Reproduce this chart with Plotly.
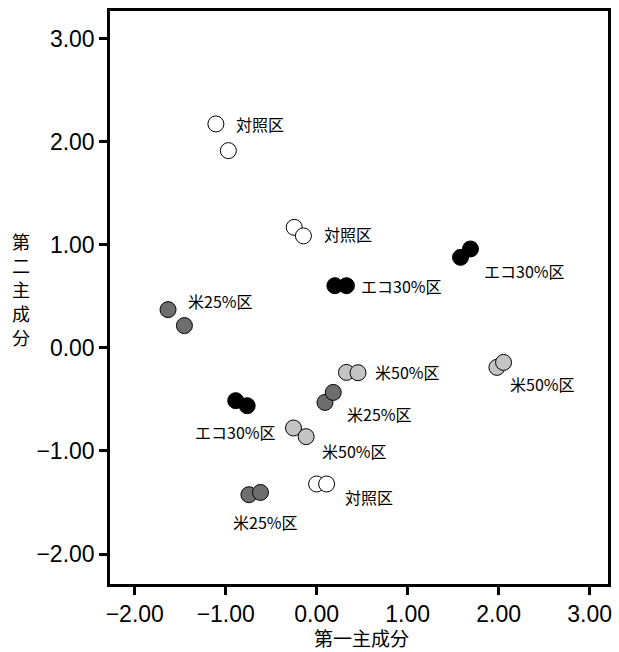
import plotly.graph_objects as go

# ---- data ----
groups = ["対照区", "エコ30%区", "米25%区", "米50%区"]

ctrl_x = [-1.108, -0.971, -0.247, -0.146, -0.001, 0.109]
ctrl_y = [2.172, 1.913, 1.169, 1.086, -1.320, -1.320]

eco_x = [0.200, 0.327, 1.581, 1.690, -0.890, -0.764]
eco_y = [0.603, 0.603, 0.878, 0.959, -0.512, -0.561]

r25_x = [-1.634, -1.454, 0.091, 0.182, -0.745, -0.618]
r25_y = [0.371, 0.216, -0.529, -0.432, -1.424, -1.402]

r50_x = [0.327, 0.454, -0.255, -0.116, 1.981, 2.054]
r50_y = [-0.238, -0.241, -0.777, -0.861, -0.189, -0.141]

# label text and anchor (left edge, vertical middle) in data units
label_text = ["対照区", "対照区", "対照区",
              "エコ30%区", "エコ30%区", "エコ30%区",
              "米25%区", "米25%区", "米25%区",
              "米50%区", "米50%区", "米50%区"]
label_x = [-0.908, 0.054, 0.291, 0.462, 1.817, -1.364, -1.436, 0.309, -0.945, 0.618, 0.037, 2.108]
label_y = [2.173, 1.105, -1.450, 0.603, 0.749, -0.820, 0.458, -0.641, -1.693, -0.238, -0.997, -0.350]

tick_vals = [-2, -1, 0, 1, 2, 3]
tick_text = ["−2.00", "−1.00", "0.00", "1.00", "2.00", "3.00"]

x_title = "第一主成分"
y_title = "第二主成分"

fills = ["#ffffff", "#000000", "#6e6e6e", "#c4c4c4"]

fig = go.Figure()
for name, xs, ys, fc in zip(groups, [ctrl_x, eco_x, r25_x, r50_x],
                            [ctrl_y, eco_y, r25_y, r50_y], fills):
    fig.add_trace(go.Scatter(
        x=xs, y=ys, mode="markers", name=name,
        marker=dict(size=16, color=fc, line=dict(color="#000000", width=1)),
        showlegend=False,
    ))

for t, lx, ly in zip(label_text, label_x, label_y):
    fig.add_annotation(x=lx, y=ly, text=t, showarrow=False,
                       xanchor="left", yanchor="middle",
                       font=dict(family="Noto Sans CJK JP", size=16, color="#000000"))

# x-axis title
fig.add_annotation(xref="paper", yref="paper", x=0.506, y=-0.094,
                   text=x_title, showarrow=False, xanchor="center", yanchor="middle",
                   font=dict(family="Noto Sans CJK JP", size=19, color="#000000"))

# y-axis title, stacked vertically one character per line
plot_h = 652 - 11 - 68
for i, ch in enumerate(y_title):
    py = 241 + 24 * i
    fig.add_annotation(xref="paper", yref="paper", x=-0.179, y=(584 - py) / plot_h,
                       text=ch, showarrow=False, xanchor="center", yanchor="middle",
                       font=dict(family="Noto Sans CJK JP", size=18, color="#000000"))

axis_common = dict(
    showgrid=False, zeroline=False, showline=True, linecolor="#000000",
    linewidth=2.5, mirror=True, ticks="outside", ticklen=8, tickwidth=2.5,
    tickcolor="#000000", tickvals=tick_vals, ticktext=tick_text,
    tickfont=dict(family="Liberation Sans", size=23, color="#000000"),
)

fig.update_layout(
    width=619, height=652,
    margin=dict(l=110, r=7, t=11, b=68),
    paper_bgcolor="#ffffff", plot_bgcolor="#ffffff",
    xaxis=dict(range=[-2.272, 3.202], **axis_common),
    yaxis=dict(range=[-2.29, 3.267], **axis_common),
)

fig.write_html("out.html")
